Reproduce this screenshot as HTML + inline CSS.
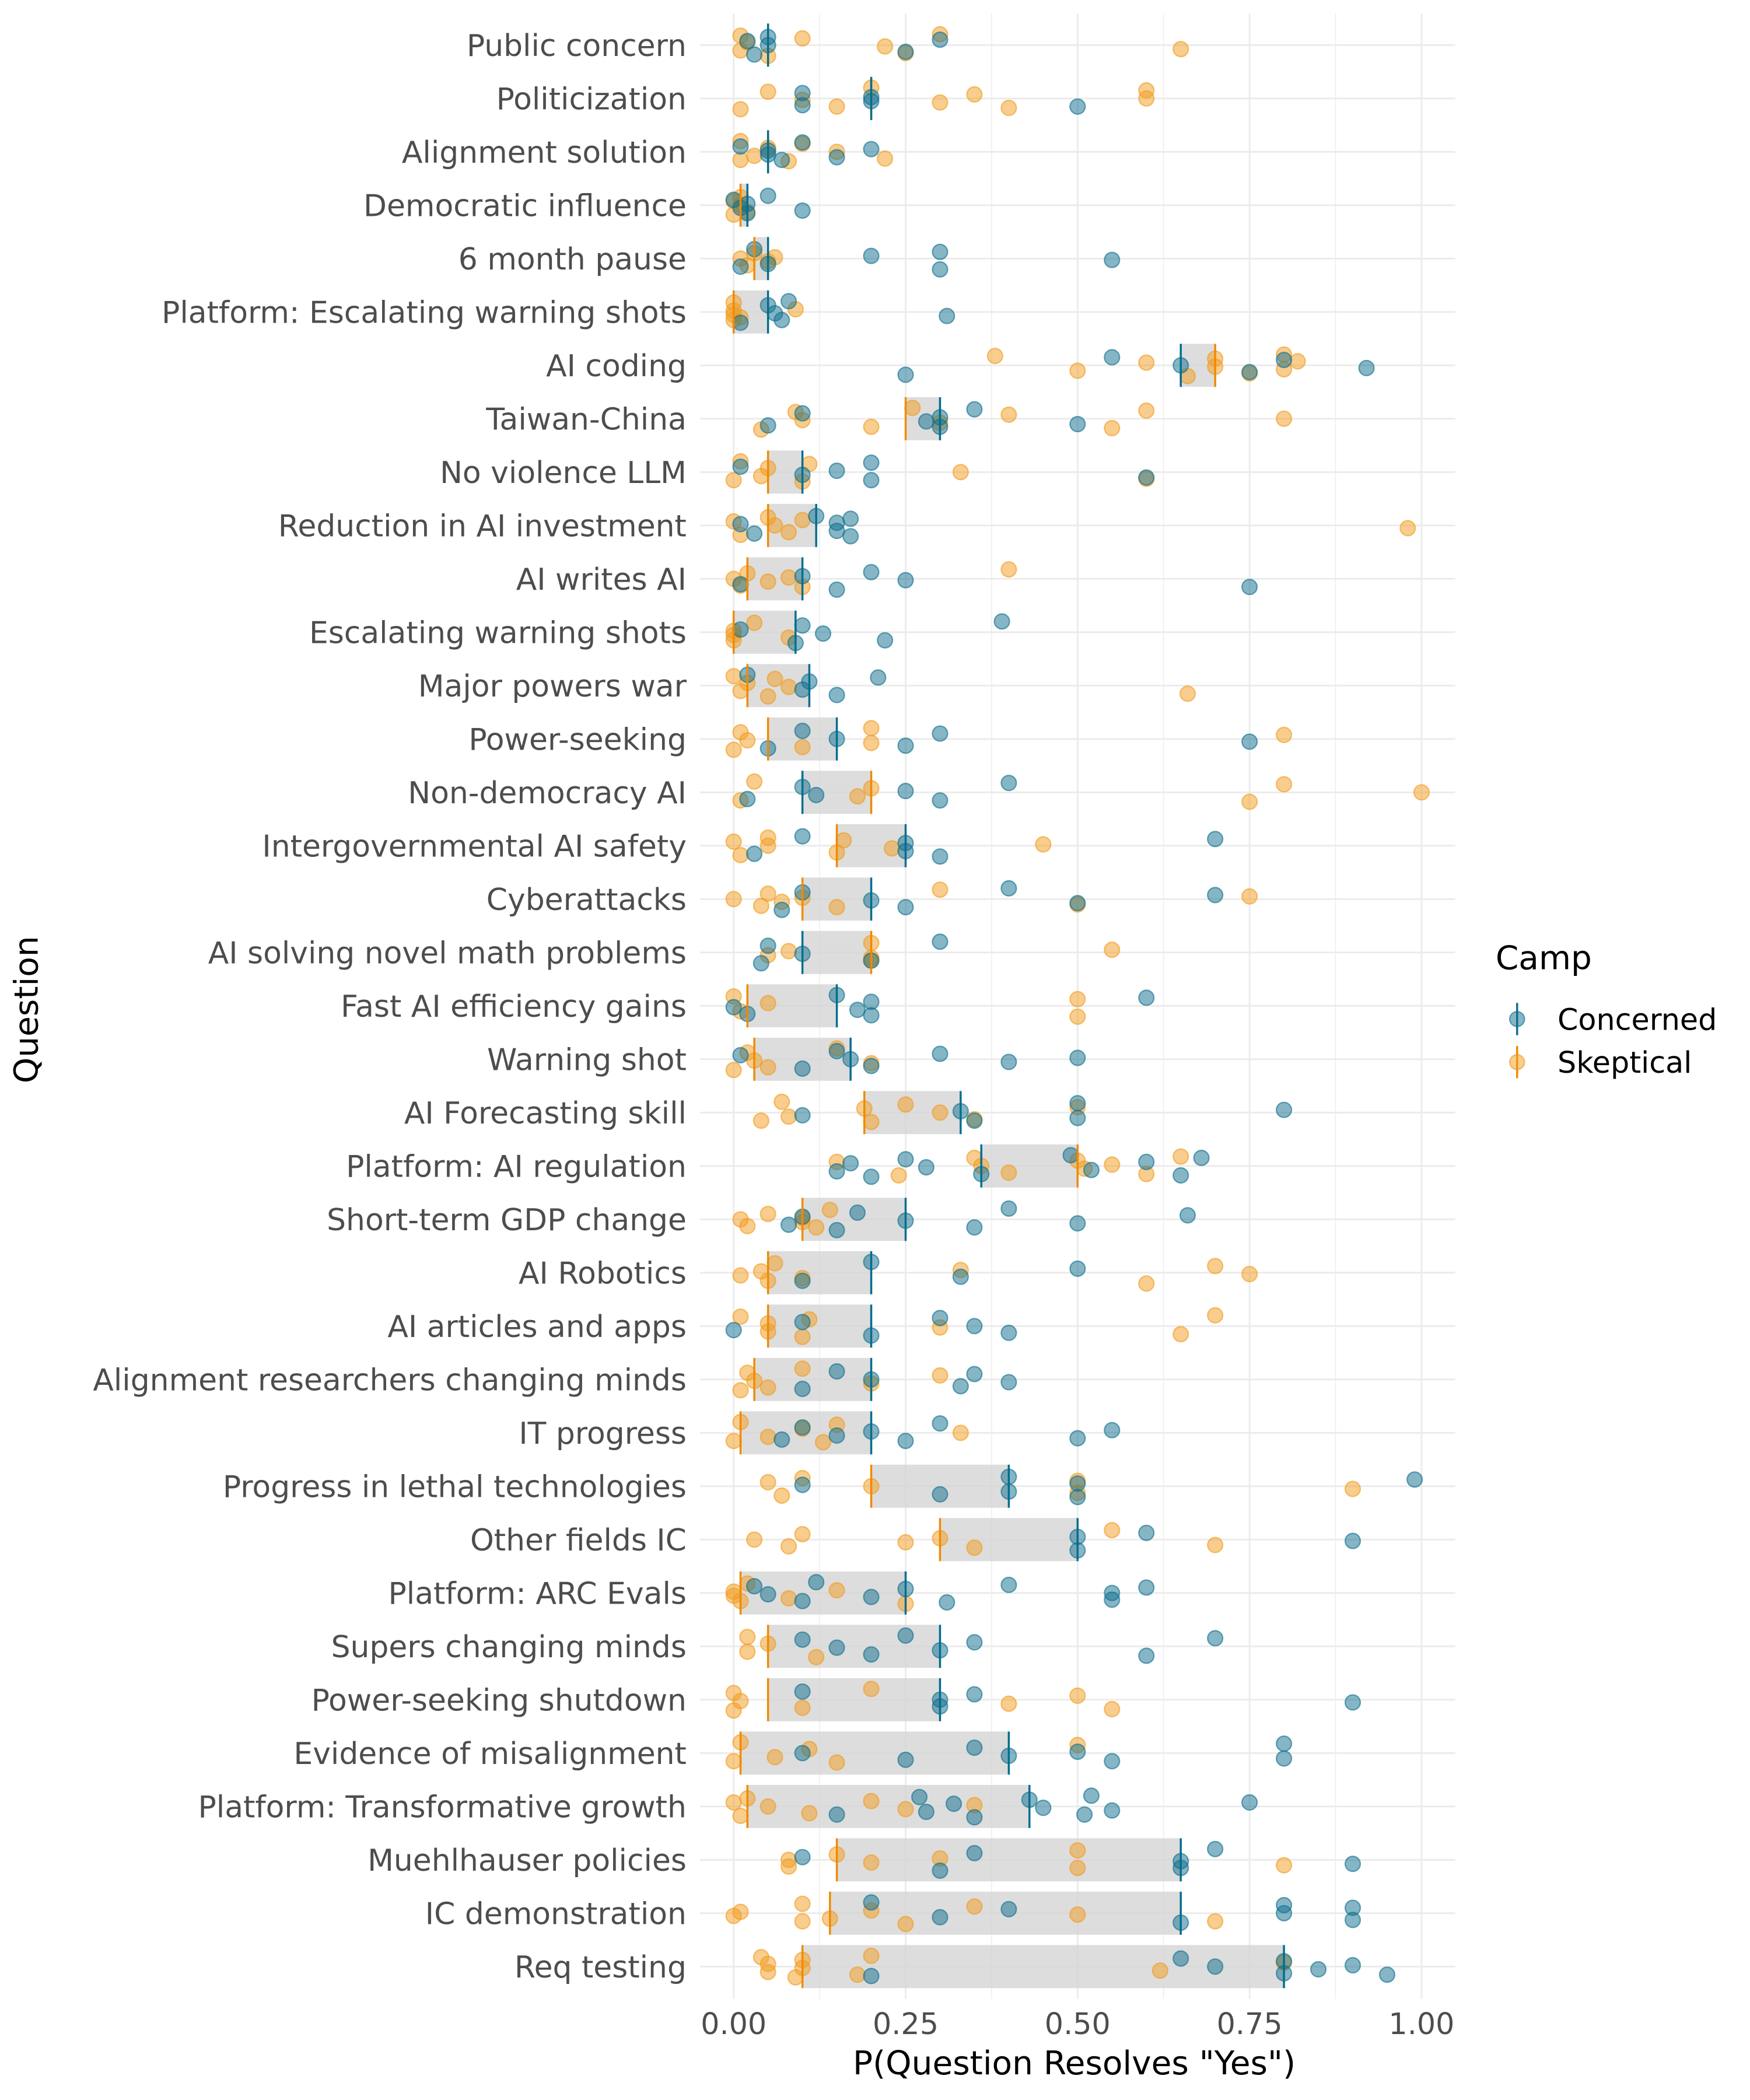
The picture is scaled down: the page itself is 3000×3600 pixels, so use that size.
<!DOCTYPE html>
<html><head><meta charset="utf-8"><style>
html,body{margin:0;padding:0;background:#fff;}
svg{display:block;}
text{font-family:"DejaVu Sans","Liberation Sans",sans-serif;}
</style></head><body>
<svg id="chart" width="3000" height="3600" viewBox="0 0 1300 1560" xmlns="http://www.w3.org/2000/svg">
<rect width="1300" height="1560" fill="#fff"/>
<g id="grid"></g>
<g id="bars"></g>
<g id="pts"></g>
<g id="meds"></g>
<g id="ylabels"></g>
<g id="xlabels"></g>
<text x="798" y="1541" font-size="24.5" text-anchor="middle" fill="#000">P(Question Resolves "Yes")</text>
<text x="0" y="0" font-size="24.5" text-anchor="middle" fill="#000" transform="translate(28,750) rotate(-90)">Question</text>
<g>
<text x="1111" y="720" font-size="24.5" fill="#000">Camp</text>
<g>
<line x1="1127" y1="745" x2="1127" y2="769" stroke="#0d6e8e" stroke-width="1.5"/>
<circle cx="1127" cy="757" r="5.5" fill="#0d6e8e" fill-opacity="0.5" stroke="#0d6e8e" stroke-opacity="0.6"/>
<text x="1157" y="765" font-size="22" fill="#000">Concerned</text></g>
<g>
<line x1="1127" y1="777" x2="1127" y2="801" stroke="#f08a00" stroke-width="1.5"/>
<circle cx="1127" cy="789" r="5.5" fill="#f29b1d" fill-opacity="0.5" stroke="#f29b1d" stroke-opacity="0.6"/>
<text x="1157" y="797" font-size="22" fill="#000">Skeptical</text></g>
</g>
</svg>
<script>
const questions = ["Public concern","Politicization","Alignment solution","Democratic influence","6 month pause","Platform: Escalating warning shots","AI coding","Taiwan-China","No violence LLM","Reduction in AI investment","AI writes AI","Escalating warning shots","Major powers war","Power-seeking","Non-democracy AI","Intergovernmental AI safety","Cyberattacks","AI solving novel math problems","Fast AI efficiency gains","Warning shot","AI Forecasting skill","Platform: AI regulation","Short-term GDP change","AI Robotics","AI articles and apps","Alignment researchers changing minds","IT progress","Progress in lethal technologies","Other fields IC","Platform: ARC Evals","Supers changing minds","Power-seeking shutdown","Evidence of misalignment","Platform: Transformative growth","Muehlhauser policies","IC demonstration","Req testing"];
const concernedMedian = [0.05,0.20,0.05,0.02,0.05,0.05,0.65,0.30,0.10,0.12,0.10,0.09,0.11,0.15,0.10,0.25,0.20,0.10,0.15,0.17,0.33,0.36,0.25,0.20,0.20,0.20,0.20,0.40,0.50,0.25,0.30,0.30,0.40,0.43,0.65,0.65,0.80];
const skepticalMedian = [0.05,0.20,0.05,0.01,0.03,0.00,0.70,0.25,0.05,0.05,0.02,0.00,0.02,0.05,0.20,0.15,0.10,0.20,0.02,0.03,0.19,0.50,0.10,0.05,0.05,0.03,0.01,0.20,0.30,0.01,0.05,0.05,0.01,0.02,0.15,0.14,0.10];
const concernedPoints = [
[0.02,0.03,0.05,0.05,0.25,0.30],
[0.10,0.10,0.20,0.20,0.50],
[0.01,0.05,0.05,0.07,0.10,0.15,0.20],
[0,0.01,0.02,0.02,0.05,0.10],
[0.01,0.03,0.05,0.20,0.30,0.30,0.55],
[0.01,0.05,0.06,0.07,0.08,0.31],
[0.25,0.55,0.65,0.75,0.80,0.92],
[0.05,0.10,0.28,0.30,0.30,0.35,0.50],
[0.01,0.10,0.15,0.20,0.20,0.60],
[0.01,0.03,0.12,0.15,0.15,0.17,0.17],
[0.01,0.10,0.15,0.20,0.25,0.75],
[0.01,0.09,0.10,0.13,0.22,0.39],
[0.02,0.10,0.11,0.15,0.21],
[0.05,0.10,0.15,0.25,0.30,0.75],
[0.02,0.10,0.12,0.25,0.30,0.40],
[0.03,0.10,0.25,0.25,0.30,0.70],
[0.07,0.10,0.20,0.25,0.40,0.50,0.70],
[0.04,0.05,0.10,0.20,0.30],
[0,0.02,0.15,0.18,0.20,0.20,0.60],
[0.01,0.10,0.15,0.17,0.20,0.30,0.40,0.50],
[0.10,0.33,0.35,0.50,0.50,0.80],
[0.15,0.17,0.20,0.25,0.28,0.36,0.49,0.52,0.60,0.65,0.68],
[0.08,0.10,0.15,0.18,0.25,0.35,0.40,0.50,0.66],
[0.10,0.20,0.33,0.50],
[0,0.10,0.20,0.30,0.35,0.40],
[0.10,0.15,0.20,0.33,0.35,0.40],
[0.07,0.10,0.15,0.20,0.25,0.30,0.50,0.55],
[0.10,0.30,0.40,0.40,0.50,0.50,0.99],
[0.50,0.50,0.60,0.90],
[0.03,0.05,0.10,0.12,0.20,0.25,0.31,0.40,0.55,0.55,0.60],
[0.10,0.15,0.20,0.25,0.30,0.35,0.60,0.70],
[0.10,0.30,0.30,0.35,0.90],
[0.10,0.25,0.35,0.40,0.50,0.55,0.80,0.80],
[0.15,0.27,0.28,0.32,0.35,0.43,0.45,0.51,0.52,0.55,0.75],
[0.10,0.30,0.35,0.65,0.65,0.70,0.90],
[0.20,0.30,0.40,0.65,0.80,0.80,0.90,0.90],
[0.20,0.65,0.70,0.80,0.80,0.85,0.90,0.95]];
const skepticalPoints = [
[0.01,0.01,0.02,0.05,0.10,0.22,0.25,0.30,0.65],
[0.01,0.05,0.10,0.15,0.20,0.30,0.35,0.40,0.60,0.60],
[0.01,0.01,0.03,0.05,0.08,0.10,0.15,0.22],
[0,0,0.01,0.01,0.02],
[0.01,0.02,0.03,0.05,0.06],
[0,0,0,0,0.01,0.09],
[0.38,0.50,0.60,0.66,0.70,0.70,0.75,0.80,0.80,0.82],
[0.04,0.09,0.10,0.20,0.26,0.30,0.40,0.55,0.60,0.80],
[0,0.01,0.04,0.05,0.10,0.11,0.33,0.60],
[0,0.01,0.05,0.06,0.08,0.10,0.98],
[0,0.01,0.02,0.05,0.08,0.10,0.40],
[0,0,0,0.03,0.08],
[0,0.01,0.02,0.05,0.06,0.08,0.66],
[0,0.01,0.02,0.10,0.20,0.20,0.80],
[0.01,0.03,0.18,0.20,0.75,0.80,1.0],
[0,0.01,0.05,0.05,0.15,0.16,0.23,0.45],
[0,0.04,0.05,0.07,0.10,0.15,0.30,0.50,0.75],
[0.05,0.08,0.20,0.20,0.20,0.55],
[0,0.01,0.05,0.50,0.50],
[0,0.02,0.03,0.05,0.15,0.20],
[0.04,0.07,0.08,0.19,0.20,0.25,0.30,0.35,0.50],
[0.15,0.24,0.35,0.36,0.40,0.50,0.51,0.55,0.60,0.65],
[0.01,0.02,0.05,0.10,0.10,0.12,0.14],
[0.01,0.04,0.05,0.06,0.10,0.33,0.60,0.70,0.75],
[0.01,0.05,0.05,0.10,0.11,0.30,0.65,0.70],
[0.01,0.02,0.03,0.05,0.10,0.20,0.30],
[0,0.01,0.05,0.10,0.13,0.15,0.33],
[0.05,0.07,0.10,0.20,0.50,0.50,0.90],
[0.03,0.08,0.10,0.25,0.30,0.35,0.55,0.70],
[0,0,0.01,0.02,0.08,0.15,0.25],
[0.02,0.02,0.05,0.12],
[0,0,0.01,0.10,0.20,0.40,0.50,0.55],
[0,0.01,0.06,0.11,0.15,0.50],
[0,0.01,0.02,0.05,0.11,0.20,0.25,0.35],
[0.08,0.08,0.15,0.20,0.30,0.50,0.50,0.80],
[0,0.01,0.10,0.10,0.14,0.20,0.25,0.35,0.50,0.70],
[0.04,0.05,0.05,0.09,0.10,0.10,0.18,0.20,0.62,0.80]];
const xTicks = [0,0.25,0.5,0.75,1];
const xTickLabels = ["0.00","0.25","0.50","0.75","1.00"];

const NS = "http://www.w3.org/2000/svg";
const X0 = 545, XW = 511, Y0 = 33.5, DY = 39.65;
function xs(v){ return X0 + v*XW; }
function ys(i){ return Y0 + i*DY; }
const jit = [-7,4,-2,8,-5,1,6,-8,3,-3,7,-6,0,5,-4,2,-1,6];
function mk(tag, attrs, parent){ const e=document.createElementNS(NS,tag); for(const k in attrs) e.setAttribute(k,attrs[k]); parent.appendChild(e); return e; }
const grid=document.getElementById('grid'), bars=document.getElementById('bars'), pts=document.getElementById('pts'), meds=document.getElementById('meds'), yl=document.getElementById('ylabels'), xl=document.getElementById('xlabels');
for(let k=0;k<=8;k++){
  const v=k/8;
  const l=mk('line',{x1:xs(v),x2:xs(v),y1:10,y2:1485,stroke:'#ebebeb','stroke-width':k%2?0.6:1.2},grid);
  
  
}
questions.forEach((q,i)=>{
  const y=ys(i);
  const g=mk('line',{x1:520,x2:1081,y1:y,y2:y,stroke:'#ebebeb','stroke-width':1.2},grid);
  
  
  const a=Math.min(concernedMedian[i],skepticalMedian[i]), b=Math.max(concernedMedian[i],skepticalMedian[i]);
  const r=mk('rect',{x:xs(a),y:y-16,width:Math.max(xs(b)-xs(a),0),height:32,fill:'#d4d4d4','fill-opacity':0.8},bars);
  
  
  let n=0;
  skepticalPoints[i].forEach(v=>{
    const c=mk('circle',{cx:xs(v),cy:y+jit[(n+i*3)%jit.length],r:5.6,fill:'#f29b1d','fill-opacity':0.5,stroke:'#f29b1d','stroke-opacity':0.6,'stroke-width':1},pts);
    
    
    n++;
  });
  concernedPoints[i].forEach(v=>{
    const c=mk('circle',{cx:xs(v),cy:y+jit[(n+i*3)%jit.length],r:5.6,fill:'#0d6e8e','fill-opacity':0.5,stroke:'#0d6e8e','stroke-opacity':0.6,'stroke-width':1},pts);
    
    
    n++;
  });
  const m1=mk('line',{x1:xs(skepticalMedian[i]),x2:xs(skepticalMedian[i]),y1:y-16,y2:y+16,stroke:'#f08a00','stroke-width':1.5},meds);
  
  
  const m2=mk('line',{x1:xs(concernedMedian[i]),x2:xs(concernedMedian[i]),y1:y-16,y2:y+16,stroke:'#006d8f','stroke-width':1.5},meds);
  
  
  const t=mk('text',{x:510,y:y+8,'font-size':22.5,'text-anchor':'end',fill:'#4d4d4d'},yl);
  t.textContent=q;
  
  
});
xTicks.forEach((v,k)=>{
  const t=mk('text',{x:xs(v),y:1511,'font-size':22,'text-anchor':'middle',fill:'#4d4d4d'},xl);
  t.textContent=xTickLabels[k];
  
  
});
</script>
</body></html>
